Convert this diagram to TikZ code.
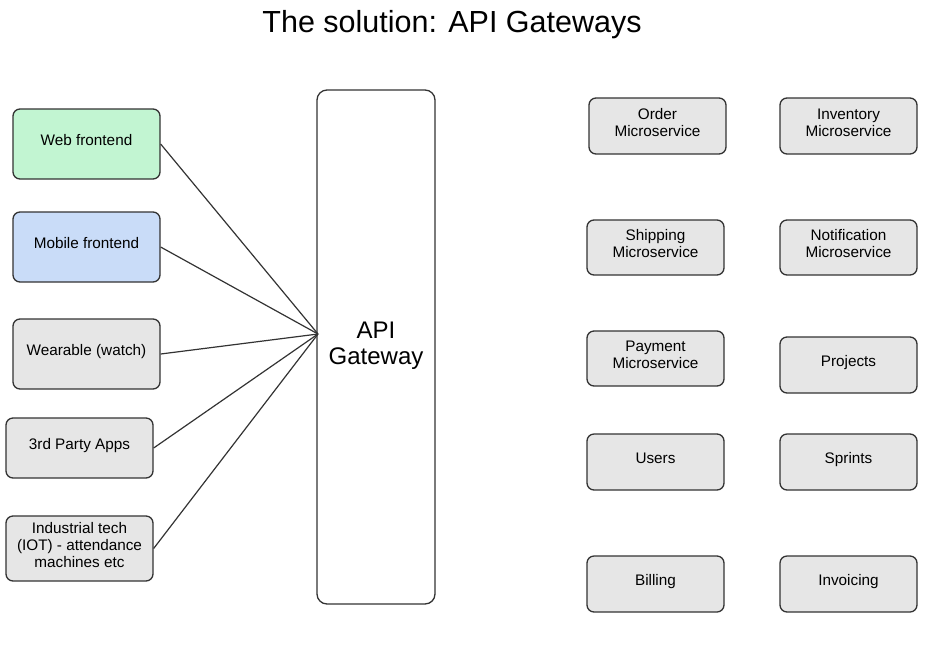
\documentclass[tikz,border=0pt]{standalone}
\usepackage{fontspec}
\setmainfont{Liberation Sans}
\definecolor{boxgray}{HTML}{E6E6E6}
\definecolor{webgreen}{HTML}{C2F5D2}
\definecolor{mobblue}{HTML}{C9DCF8}
\definecolor{edge}{HTML}{333333}
\begin{document}
\begin{tikzpicture}[x=1pt,y=-1pt,
  svc/.style={draw=edge, line width=1.3pt, rounded corners=7pt, fill=boxgray, align=center, font=\fontsize{15.3}{17}\selectfont, inner sep=0pt, text depth=7.5pt},
  link/.style={draw=edge, line width=1.2pt}]
\useasboundingbox (0,0) rectangle (937,649);
\node[font=\fontsize{30.5}{33}\selectfont] (title) at (452,25) {The solution: API Gateways};
% clients
\node[svc, fill=webgreen, minimum width=147pt, minimum height=70pt] (web) at (86.5,144) {Web frontend};
\node[svc, fill=mobblue, minimum width=147pt, minimum height=70pt] (mob) at (86.5,247) {Mobile frontend};
\node[svc, minimum width=147pt, minimum height=70pt] (wear) at (86.5,354) {Wearable (watch)};
\node[svc, minimum width=147pt, minimum height=60pt] (third) at (79.5,448) {3rd Party Apps};
\node[svc, minimum width=147pt, minimum height=65pt] (iot) at (79.5,548.5) {Industrial tech\\(IOT) - attendance\\machines etc};
% gateway
\node[draw=edge, line width=1.3pt, rounded corners=10pt, fill=white, minimum width=118pt, minimum height=514pt, inner sep=0pt] (gw) at (376,347) {};
\node[align=center, font=\fontsize{24}{26}\selectfont] (gwl) at (376,346) {API\\Gateway};
\coordinate (hub) at (318,334);
\draw[link] (web.east) -- (hub);
\draw[link] (mob.east) -- (hub);
\draw[link] (wear.east) -- (hub);
\draw[link] (third.east) -- (hub);
\draw[link] (iot.east) -- (hub);
% services
\node[svc, minimum width=137pt, minimum height=56pt] (order) at (657.5,126) {Order\\Microservice};
\node[svc, minimum width=137pt, minimum height=56pt] (inv) at (848.5,126) {Inventory\\Microservice};
\node[svc, minimum width=137pt, minimum height=55pt] (ship) at (655.5,247.5) {Shipping\\Microservice};
\node[svc, minimum width=137pt, minimum height=55pt] (notif) at (848.5,247.5) {Notification\\Microservice};
\node[svc, minimum width=137pt, minimum height=55pt] (pay) at (655.5,358.5) {Payment\\Microservice};
\node[svc, minimum width=137pt, minimum height=56pt] (proj) at (848.5,365) {Projects};
\node[svc, minimum width=137pt, minimum height=56pt] (users) at (655.5,462) {Users};
\node[svc, minimum width=137pt, minimum height=56pt] (sprints) at (848.5,462) {Sprints};
\node[svc, minimum width=137pt, minimum height=56pt] (bill) at (655.5,584) {Billing};
\node[svc, minimum width=137pt, minimum height=56pt] (invo) at (848.5,584) {Invoicing};
\end{tikzpicture}
\end{document}
